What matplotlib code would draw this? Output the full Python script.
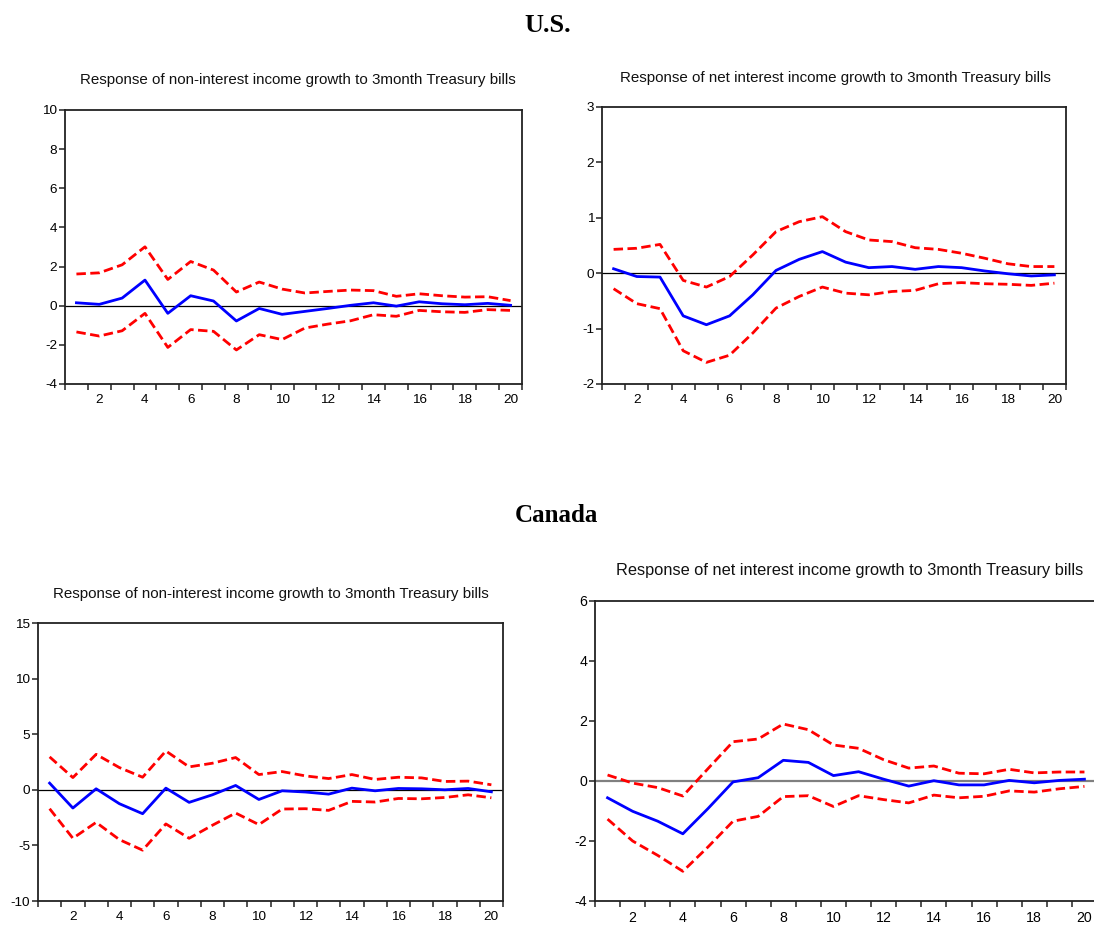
import numpy as np
import matplotlib.pyplot as plt
from matplotlib.ticker import MultipleLocator, FixedLocator

plt.rcParams['font.family'] = ['Liberation Sans', 'DejaVu Sans']
plt.rcParams['axes.unicode_minus'] = False

periods = np.arange(1, 21)

# U.S. - non-interest income growth
us_nii = [0.15, 0.07, 0.39, 1.31, -0.39, 0.51, 0.24, -0.78, -0.14, -0.44,
          -0.29, -0.14, 0.02, 0.15, -0.02, 0.20, 0.10, 0.05, 0.12, 0.02]
us_nii_hi = [1.62, 1.68, 2.09, 3.01, 1.34, 2.26, 1.82, 0.70, 1.21, 0.85,
             0.65, 0.73, 0.80, 0.77, 0.48, 0.61, 0.51, 0.44, 0.46, 0.26]
us_nii_lo = [-1.34, -1.55, -1.28, -0.39, -2.13, -1.22, -1.31, -2.26, -1.48, -1.73,
             -1.14, -0.94, -0.77, -0.46, -0.54, -0.24, -0.31, -0.34, -0.20, -0.24]

# U.S. - net interest income growth
us_ni = [0.08, -0.06, -0.07, -0.77, -0.93, -0.77, -0.39, 0.05, 0.25, 0.39,
         0.20, 0.10, 0.12, 0.07, 0.12, 0.10, 0.04, -0.01, -0.05, -0.03]
us_ni_hi = [0.43, 0.45, 0.52, -0.13, -0.25, -0.06, 0.33, 0.75, 0.93, 1.02,
            0.75, 0.60, 0.57, 0.46, 0.43, 0.36, 0.27, 0.17, 0.12, 0.12]
us_ni_lo = [-0.28, -0.55, -0.64, -1.40, -1.61, -1.48, -1.08, -0.63, -0.42, -0.25,
            -0.36, -0.39, -0.33, -0.31, -0.19, -0.17, -0.19, -0.20, -0.22, -0.18]

# Canada - non-interest income growth
ca_nii = [0.60, -1.64, 0.09, -1.25, -2.15, 0.15, -1.13, -0.45, 0.39, -0.87,
          -0.09, -0.20, -0.39, 0.15, -0.09, 0.12, 0.09, 0.00, 0.12, -0.18]
ca_nii_hi = [2.96, 1.10, 3.19, 2.00, 1.13, 3.49, 2.06, 2.39, 2.90, 1.37,
             1.64, 1.25, 1.01, 1.37, 0.93, 1.13, 1.07, 0.75, 0.78, 0.45]
ca_nii_lo = [-1.70, -4.36, -2.93, -4.48, -5.43, -3.07, -4.36, -3.19, -2.09, -3.13,
             -1.73, -1.70, -1.85, -1.04, -1.10, -0.78, -0.81, -0.69, -0.45, -0.72]

# Canada - net interest income growth
ca_ni = [-0.56, -1.01, -1.34, -1.76, -0.92, -0.03, 0.11, 0.69, 0.62, 0.18,
         0.31, 0.06, -0.17, 0.01, -0.13, -0.13, 0.02, -0.06, 0.02, 0.06]
ca_ni_hi = [0.20, -0.07, -0.22, -0.50, 0.41, 1.31, 1.40, 1.90, 1.71, 1.20,
            1.09, 0.71, 0.43, 0.50, 0.26, 0.24, 0.39, 0.27, 0.30, 0.30]
ca_ni_lo = [-1.27, -2.00, -2.48, -3.01, -2.20, -1.34, -1.18, -0.52, -0.49, -0.85,
            -0.49, -0.62, -0.73, -0.47, -0.56, -0.51, -0.33, -0.37, -0.26, -0.18]

title_nii = "Response of non-interest income growth to 3month Treasury bills"
title_ni = "Response of net interest income growth to 3month Treasury bills"

W, H = 1094, 925
fig = plt.figure(figsize=(W / 100, H / 100), dpi=100)


def px_axes(left, top, right, bottom):
    return fig.add_axes([left / W, 1 - bottom / H, (right - left) / W, (bottom - top) / H])


def panel(box, resp, hi, lo, ylim, ystep, title, tx, ty, fs, tfs,
          zero_col='black', zero_lw=0.9):
    ax = px_axes(*box)
    ax.axhline(0, color=zero_col, lw=zero_lw, zorder=1)
    ax.plot(periods, hi, color='#ff0000', lw=2.0, ls=(0, (3.4, 1.6)), zorder=2)
    ax.plot(periods, lo, color='#ff0000', lw=2.0, ls=(0, (3.4, 1.6)), zorder=2)
    ax.plot(periods, resp, color='#0000ff', lw=2.0, zorder=3)
    ax.set_xlim(0.5, 20.5)
    ax.set_ylim(*ylim)
    ax.yaxis.set_major_locator(MultipleLocator(ystep))
    ax.xaxis.set_major_locator(FixedLocator(np.arange(2, 21, 2)))
    ax.xaxis.set_minor_locator(FixedLocator(np.arange(0.5, 21, 1.0)))
    ax.tick_params(axis='x', which='major', length=0, pad=7, labelsize=fs)
    ax.tick_params(axis='x', which='minor', length=4, width=1.2, direction='out', color='#333333')
    ax.tick_params(axis='y', which='major', length=4, width=1.2, direction='out',
                   color='#333333', labelsize=fs, pad=1.5)
    for s in ax.spines.values():
        s.set_linewidth(1.3)
        s.set_color('#222222')
    fig.text(tx / W, 1 - ty / H, title, ha='center', va='center', fontsize=tfs, color='#111111')
    return ax


panel((65, 110, 522, 384), us_nii, us_nii_hi, us_nii_lo, (-4, 10), 2,
      title_nii, 298, 80, 9.7, 10.9)
panel((602, 107, 1066, 384), us_ni, us_ni_hi, us_ni_lo, (-2, 3), 1,
      title_ni, 835, 78, 9.7, 10.9)
panel((38, 623, 503, 901), ca_nii, ca_nii_hi, ca_nii_lo, (-10, 15), 5,
      title_nii, 271, 594, 9.7, 10.9)
panel((595, 601, 1097, 901), ca_ni, ca_ni_hi, ca_ni_lo, (-4, 6), 2,
      title_ni, 850, 570, 10.2, 11.8, zero_col='#808080', zero_lw=1.6)

fig.text(548 / W, 1 - 25 / H, "U.S.", ha='center', va='center', fontsize=19,
         fontweight='bold', family=['Liberation Serif', 'DejaVu Serif'])
fig.text(556 / W, 1 - 515 / H, "Canada", ha='center', va='center', fontsize=18,
         fontweight='bold', family=['Liberation Serif', 'DejaVu Serif'])

fig.savefig('out.png', dpi=100)
